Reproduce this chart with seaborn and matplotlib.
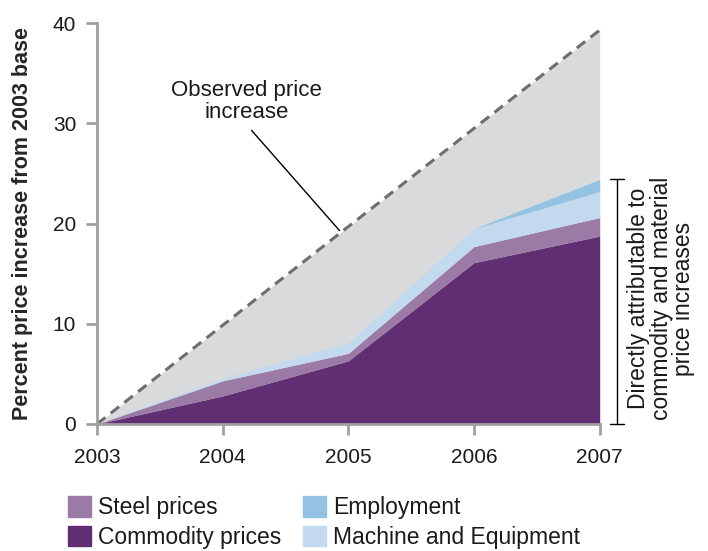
import matplotlib
matplotlib.use("Agg")
import matplotlib.pyplot as plt
import seaborn as sns
from matplotlib.patches import Patch

years = [2003, 2004, 2005, 2006, 2007]
observed = [0, 9.85, 19.7, 29.5, 39.3]
commodity = [0, 2.8, 6.3, 16.1, 18.75]
steel = [0, 1.5, 0.75, 1.6, 1.85]
machine = [0, 0.25, 1.05, 1.8, 2.6]
employment = [0, 0, 0, 0, 1.2]

c_gray = "#d9dadc"
c_comm = "#622e73"
c_steel = "#9b7aa5"
c_mach = "#c3d9ee"
c_emp = "#94c2e3"

sns.set_style("ticks")
plt.rcParams['font.family'] = ['Liberation Sans', 'DejaVu Sans']

fig = plt.figure(figsize=(7.08, 5.51), dpi=100)
ax = fig.add_axes([0.137, 0.2305, 0.71, 0.7275])

ax.fill_between(years, 0, observed, color=c_gray, lw=0)
ax.stackplot(years, commodity, steel, machine, employment,
             colors=[c_comm, c_steel, c_mach, c_emp], lw=0)
sns.lineplot(x=years, y=observed, ax=ax, color="#6e6e70", lw=2.2,
             linestyle=(0, (3.5, 2.2)))

ax.set_xlim(2003, 2007)
ax.set_ylim(0, 40)
ax.set_xticks(years)
ax.set_yticks([0, 10, 20, 30, 40])
ax.tick_params(colors="#a0a0a2", labelcolor="#1a1a1a", labelsize=15,
               width=2, length=8)
ax.tick_params(axis="x", pad=9)
ax.tick_params(axis="y", pad=7)
for s in ["left", "bottom"]:
    ax.spines[s].set_color("#a0a0a2")
    ax.spines[s].set_linewidth(2)
sns.despine(ax=ax)
ax.set_ylabel("Percent price increase from 2003 base", fontsize=15.5,
              fontweight="bold")
ax.yaxis.set_label_coords(-0.128, 0.5)

ax.text(2004.19, 32.2, "Observed price\nincrease", ha="center", va="center",
        fontsize=16, linespacing=1.05, color="#1a1a1a")
ax.plot([2004.23, 2004.93], [29.3, 19.3], color="black", lw=1)

# bracket on right
tot = [a + b + c + d for a, b, c, d in zip(commodity, steel, machine, employment)]
bx = 1.034
ax.plot([bx, bx], [0, tot[-1]], color="black", lw=1,
        transform=ax.get_yaxis_transform(), clip_on=False)
for yv in [0, tot[-1]]:
    ax.plot([bx - 0.014, bx + 0.014], [yv, yv], color="black", lw=1,
            transform=ax.get_yaxis_transform(), clip_on=False)
ax.text(1.122, 12.5, "Directly attributable to\ncommodity and material\nprice increases",
        rotation=90, ha="center", va="center", fontsize=16.5, linespacing=0.95,
        color="#1a1a1a", transform=ax.get_yaxis_transform())

handles = [Patch(color=c_steel), Patch(color=c_comm),
           Patch(color=c_emp), Patch(color=c_mach)]
labels = ["Steel prices", "Commodity prices", "Employment", "Machine and Equipment"]
fig.legend(handles, labels, ncol=2, loc="upper left", bbox_to_anchor=(0.096, 0.0998),
           frameon=False, fontsize=16.5, handlelength=1.0, handleheight=1.0,
           handletextpad=0.32, columnspacing=0.95, labelspacing=0.3, borderpad=0,
           borderaxespad=0, labelcolor="#1a1a1a")

fig.savefig("out.png", dpi=100)
